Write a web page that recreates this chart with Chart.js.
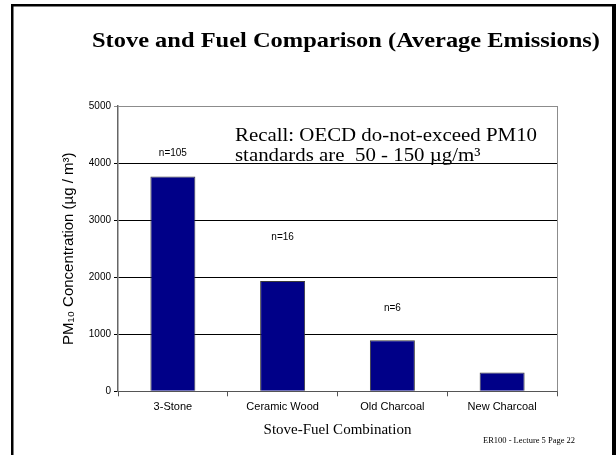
<!DOCTYPE html>
<html>
<head>
<meta charset="utf-8">
<script src="https://cdn.jsdelivr.net/npm/chart.js@4/dist/chart.umd.min.js"></script>
<style>
  html, body { margin: 0; padding: 0; background: #fff; }
  #wrap { width: 616px; height: 455px; position: relative; }
</style>
</head>
<body>
<div id="wrap"><canvas id="stoveChart" width="616" height="455"></canvas></div>
<script>
// Data
const stoves = ['3-Stone', 'Ceramic Wood', 'Old Charcoal', 'New Charcoal'];
const pm10 = [3765, 1935, 895, 328];            // µg / m3
const sampleSizes = ['n=105', 'n=16', 'n=6', ''];
const sampleLabelAt = [4170, 2700, 1450, 0];     // height (in data units) of the n= labels
const yTicks = [0, 1000, 2000, 3000, 4000, 5000];

const serif = '"Liberation Serif", "Times New Roman", serif';
const sans = '"Liberation Sans", Arial, sans-serif';

// draw text starting at x, squeezed/stretched horizontally by sx
function drawStretched(c, text, x, y, sx) {
    c.save();
    c.translate(x, y);
    c.scale(sx, 1);
    c.fillText(text, 0, 0);
    c.restore();
}

// Slide decoration: frame, title, note, footer, n= labels, plot right edge
const slidePlugin = {
    id: 'slide',
    afterDraw(chart) {
        const c = chart.ctx;
        const area = chart.chartArea;
        const x = chart.scales.x;
        const y = chart.scales.y;
        c.save();

        // right edge of plot
        c.strokeStyle = '#8c8c8c';
        c.lineWidth = 1;
        c.beginPath();
        c.moveTo(Math.round(area.right) + 0.5, area.top);
        c.lineTo(Math.round(area.right) + 0.5, area.bottom);
        c.stroke();

        // n= labels above the bars
        c.fillStyle = '#000';
        c.font = '10px ' + sans;
        c.textAlign = 'center';
        c.textBaseline = 'middle';
        sampleSizes.forEach((txt, i) => {
            if (txt) c.fillText(txt, x.getPixelForValue(i), y.getPixelForValue(sampleLabelAt[i]));
        });

        c.textAlign = 'left';
        c.textBaseline = 'alphabetic';

        // slide title
        c.font = 'bold 22px ' + serif;
        const title = 'Stove and Fuel Comparison (Average Emissions)';
        drawStretched(c, title, 92, 47, 508 / c.measureText(title).width);

        // note in the plot
        c.font = '19px ' + serif;
        const note1 = 'Recall: OECD do-not-exceed PM10';
        const sx = 302 / c.measureText(note1).width;
        drawStretched(c, note1, 235, 141, sx);
        drawStretched(c, 'standards are  50 - 150 \u00b5g/m\u00b3', 235, 161, sx);

        // footer
        c.font = '8px ' + serif;
        const foot = 'ER100 - Lecture 5 Page 22';
        drawStretched(c, foot, 483, 443, 92 / c.measureText(foot).width);

        // slide frame
        c.fillStyle = '#000';
        c.fillRect(11, 4, 605, 2.5);
        c.fillRect(11, 4, 2.5, 451);
        c.fillRect(612, 4, 4, 451);
        c.restore();
    }
};

const ctx = document.getElementById('stoveChart').getContext('2d');

new Chart(ctx, {
    type: 'bar',
    data: {
        labels: stoves,
        datasets: [{
            data: pm10,
            backgroundColor: '#000088',
            borderColor: '#3a3a3a',
            borderWidth: 1,
            categoryPercentage: 1,
            barPercentage: 0.41
        }]
    },
    options: {
        responsive: false,
        animation: false,
        layout: { padding: { left: 56, top: 106, right: 59, bottom: 16 } },
        plugins: {
            legend: { display: false },
            title: { display: false },
            tooltip: { enabled: false }
        },
        scales: {
            x: {
                afterFit: (scale) => { scale.height = 47.7; },
                grid: {
                    offset: true,
                    drawOnChartArea: false,
                    tickLength: 5,
                    color: '#555'
                },
                border: { color: '#555', width: 1 },
                ticks: {
                    color: '#000',
                    padding: 4,
                    font: { family: sans, size: 11 }
                },
                title: {
                    display: true,
                    text: 'Stove-Fuel Combination',
                    color: '#000',
                    padding: 0,
                    font: { family: serif, size: 15 }
                }
            },
            y: {
                min: 0,
                max: 5000,
                afterFit: (scale) => { scale.width = 62; },
                afterBuildTicks: (scale) => { scale.ticks = yTicks.map(v => ({ value: v })); },
                grid: {
                    tickLength: 4,
                    color: (c) => (c.tick && c.tick.value === 5000) ? '#8c8c8c' : '#000'
                },
                border: { color: '#666', width: 1.5 },
                ticks: {
                    color: '#000',
                    padding: 3,
                    font: { family: sans, size: 10 },
                    callback: (v) => String(v)
                },
                title: {
                    display: true,
                    text: 'PM\u2081\u2080 Concentration (\u00b5g / m\u00b3)',
                    color: '#000',
                    padding: { top: 4, bottom: 0 },
                    font: { family: sans, size: 15 }
                }
            }
        }
    },
    plugins: [slidePlugin]
});
</script>
</body>
</html>
